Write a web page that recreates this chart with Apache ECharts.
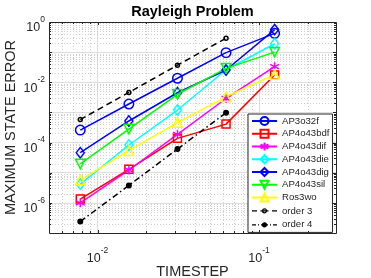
<!DOCTYPE html>
<html><head><meta charset="utf-8">
<script src="https://cdn.jsdelivr.net/npm/echarts@6/dist/echarts.min.js"></script>
<style>html,body{margin:0;padding:0;background:#fff}#c{width:371px;height:278px}</style>
</head><body><div id="c"></div>
<script>
// ---- data ----
const timesteps  = [0.0078125, 0.015625, 0.03125, 0.0625, 0.125];
const orderSteps = [0.0078125, 0.015625, 0.03125, 0.0625];
const ap3o32f   = [2.6e-4, 1.9e-3, 1.36e-2, 9.6e-2, 0.42];
const ap4o43bdf = [1.34e-6, 1.3e-5, 1.38e-4, 4.1e-4, 1.75e-2];
const ap4o43dif = [1.0e-6, 1.23e-5, 1.88e-4, 2.9e-3, 3.3e-2];
const ap4o43die = [4.2e-6, 8.3e-5, 1.2e-3, 2.6e-2, 0.19];
const ap4o43dig = [4.6e-5, 5.2e-4, 4.5e-3, 2.55e-2, 0.56];
const ap4o43sil = [1.95e-5, 2.8e-4, 4.0e-3, 2.9e-2, 0.1];
const ros3wo    = [5.7e-6, 5.4e-5, 4.6e-4, 3.3e-3, 1.8e-2];
const order3    = [5.8e-4, 4.6e-3, 3.7e-2, 0.29];
const order4    = [2.4e-7, 3.8e-6, 6.1e-5, 9.8e-4];
const seriesNames = ['AP3o32f','AP4o43bdf','AP4o43dif','AP4o43die','AP4o43dig','AP4o43sil','Ros3wo','order 3','order 4'];
const xMajorTicks = [0.01, 0.1];
const xMinorTicks = [0.006,0.007,0.008,0.009,0.02,0.03,0.04,0.05,0.06,0.07,0.08,0.09,0.2];
const yMajorTicks = [1e-6,1e-5,1e-4,1e-3,1e-2,1e-1];
const yMinorMantissas = [2,3,4,5,6,7,8,9];
const yMinorDecades = [-7,-6,-5,-4,-3,-2,-1];
const xRange = [0.005, 0.3];
const yRange = [1e-7, 1];
const titleText = 'Rayleigh Problem';
const xName = 'TIMESTEP';
const yName = 'MAXIMUM STATE ERROR';

const FONT = '"Liberation Sans", Arial, Helvetica, sans-serif';
const AX = '#262626';
const chart = echarts.init(document.getElementById('c'), null, {renderer: 'canvas'});

function isPow10(v) {
  const l = Math.log10(v);
  return Math.abs(l - Math.round(l)) < 1e-6 ? Math.round(l) : null;
}
const rich = {
  b: {fontSize: 12.5, fontFamily: FONT, color: AX, padding: [6, 0, 0, 0]},
  s: {fontSize: 8.5, fontFamily: FONT, color: AX, padding: [0, 0, 11, 0]}
};
const asterisk = 'path://M5,0L5,10M0.67,2.5L9.33,7.5M0.67,7.5L9.33,2.5';
// legend icons for the reference lines (25 x 10 box)
const order3Icon = 'path://M0,0M25,10M0,5L5,5M8.5,5L16.5,5M20,5L25,5M14.5,5A2,2,0,1,1,10.5,5A2,2,0,1,1,14.5,5';
const order4Icon = 'path://M0,0M25,10M0,5L4,5M6,5L7,5M9,5L16,5M18,5L19,5M21,5L25,5M14.5,5A2,2,0,1,1,10.5,5A2,2,0,1,1,14.5,5';

function mk(name, xs, ys, color, symbol, size, opts) {
  opts = opts || {};
  return Object.assign({
    name: name, type: 'line',
    data: xs.map((x, i) => [x, ys[i]]),
    symbol: symbol, symbolSize: size,
    lineStyle: {color: color, width: 1.5, type: opts.dash || 'solid'},
    itemStyle: {color: opts.fill || 'rgba(0,0,0,0)', borderColor: color, borderWidth: 1.5},
    emphasis: {disabled: true}, silent: true, animation: false, z: 3
  }, opts.extra || {});
}

const series = [
  mk(seriesNames[0], timesteps, ap3o32f, '#0000ff', 'circle', 9.5),
  mk(seriesNames[1], timesteps, ap4o43bdf, '#ff0000', 'rect', 8),
  mk(seriesNames[2], timesteps, ap4o43dif, '#ff00ff', asterisk, 9),
  mk(seriesNames[3], timesteps, ap4o43die, '#00ffff', 'diamond', [8, 10.5]),
  mk(seriesNames[4], timesteps, ap4o43dig, '#0000ff', 'diamond', [8, 10.5]),
  mk(seriesNames[5], timesteps, ap4o43sil, '#00ff00', 'triangle', 9.5, {extra: {symbolRotate: 180}}),
  mk(seriesNames[6], timesteps, ros3wo, '#ffff00', 'triangle', 9.5),
  mk(seriesNames[7], orderSteps, order3, '#000000', 'circle', 4, {dash: [6, 4]}),
  mk(seriesNames[8], orderSteps, order4, '#000000', 'circle', 4.5, {dash: [6, 3, 1.5, 3], fill: '#000000'})
];

const legendData = seriesNames.map(n => {
  if (n === 'order 3') return {name: n, icon: order3Icon, itemStyle: {color: 'rgba(0,0,0,0)', borderColor: '#000', borderWidth: 1.2}};
  if (n === 'order 4') return {name: n, icon: order4Icon, itemStyle: {color: '#000', borderColor: '#000', borderWidth: 1.2}};
  return {name: n};
});

const option = {
  animation: false,
  backgroundColor: '#fff',
  grid: {left: 49, top: 22, right: 35, bottom: 45, containLabel: false, outerBoundsMode: 'none'},
  xAxis: {
    type: 'log', logBase: 10, min: xRange[0], max: xRange[1],
    name: xName, nameLocation: 'middle', nameGap: 31, nameMoveOverlap: false,
    nameTextStyle: {fontFamily: FONT, fontSize: 14.5, color: AX},
    axisLine: {show: false}, axisTick: {show: false},
    splitLine: {show: true, lineStyle: {color: '#dedede', width: 1}},
    axisLabel: {
      margin: 13, rich: rich, color: AX,
      formatter: v => { const e = isPow10(v); return e === null ? '' : '{b|10}{s|' + e + '}'; }
    }
  },
  yAxis: {
    type: 'log', logBase: 10, min: yRange[0], max: yRange[1],
    name: yName, nameLocation: 'middle', nameGap: 31, nameRotate: 90, nameMoveOverlap: false,
    nameTextStyle: {fontFamily: FONT, fontSize: 14.5, color: AX},
    axisLine: {show: false}, axisTick: {show: false},
    splitLine: {show: true, lineStyle: {color: '#dedede', width: 1}},
    axisLabel: {
      margin: 4, rich: rich, color: AX, padding: [6, 0, 0, 0],
      formatter: v => { const e = isPow10(v); return (e === null || e % 2 !== 0) ? '' : '{b|10}{s|' + e + '}'; }
    }
  },
  legend: {
    data: legendData, orient: 'vertical', left: 248, top: 114,
    itemWidth: 25, itemHeight: 10, itemGap: 2.75, padding: [2, 3, 2, 3],
    backgroundColor: '#fff', borderColor: AX, borderWidth: 1, borderRadius: 0,
    textStyle: {fontFamily: FONT, fontSize: 9.6, color: AX, lineHeight: 10},
    selectedMode: false
  },
  series: series
};
chart.setOption(option);

// grid, ticks, box and title positioned through the axes' own scales
const px = v => chart.convertToPixel({xAxisIndex: 0}, v);
const py = v => chart.convertToPixel({yAxisIndex: 0}, v);
const X0 = px(xRange[0]), X1 = px(xRange[1]), Y0 = py(yRange[1]), Y1 = py(yRange[0]);
const crisp = v => Math.round(v) + 0.5;
const els = [];
const minorGrid = {stroke: '#cfcfcf', lineWidth: 1, lineDash: [1, 2]};
const tickStyle = {stroke: AX, lineWidth: 1};
const yMinorTicks = [];
yMinorDecades.forEach(e => yMinorMantissas.forEach(m => yMinorTicks.push(m * Math.pow(10, e))));

xMinorTicks.forEach(v => {
  const x = crisp(px(v));
  els.push({type: 'line', z: 1, silent: true, shape: {x1: x, y1: Y0, x2: x, y2: Y1}, style: minorGrid});
});
yMinorTicks.forEach(v => {
  const y = crisp(py(v));
  els.push({type: 'line', z: 1, silent: true, shape: {x1: X0, y1: y, x2: X1, y2: y}, style: minorGrid});
});
function xTick(v, len) {
  const x = crisp(px(v));
  els.push({type: 'line', z: 20, silent: true, shape: {x1: x, y1: Y1, x2: x, y2: Y1 - len}, style: tickStyle});
  els.push({type: 'line', z: 20, silent: true, shape: {x1: x, y1: Y0, x2: x, y2: Y0 + len}, style: tickStyle});
}
function yTick(v, len) {
  const y = crisp(py(v));
  els.push({type: 'line', z: 20, silent: true, shape: {x1: X0, y1: y, x2: X0 + len, y2: y}, style: tickStyle});
  els.push({type: 'line', z: 20, silent: true, shape: {x1: X1, y1: y, x2: X1 - len, y2: y}, style: tickStyle});
}
xMajorTicks.forEach(v => xTick(v, 3));
xMinorTicks.forEach(v => xTick(v, 2));
yMajorTicks.forEach(v => yTick(v, 3));
yMinorTicks.forEach(v => yTick(v, 2));
els.push({type: 'rect', z: 20, silent: true,
  shape: {x: crisp(X0), y: crisp(Y0), width: Math.round(X1) - Math.round(X0), height: Math.round(Y1) - Math.round(Y0)},
  style: {fill: null, stroke: AX, lineWidth: 1}});
els.push({type: 'text', z: 20, silent: true, x: (X0 + X1) / 2, y: 12,
  style: {text: titleText, fontFamily: FONT, fontSize: 14.5, fontWeight: 'bold', fill: '#000', align: 'center', verticalAlign: 'middle'}});
chart.setOption({graphic: {elements: els}});
</script>
</body></html>
